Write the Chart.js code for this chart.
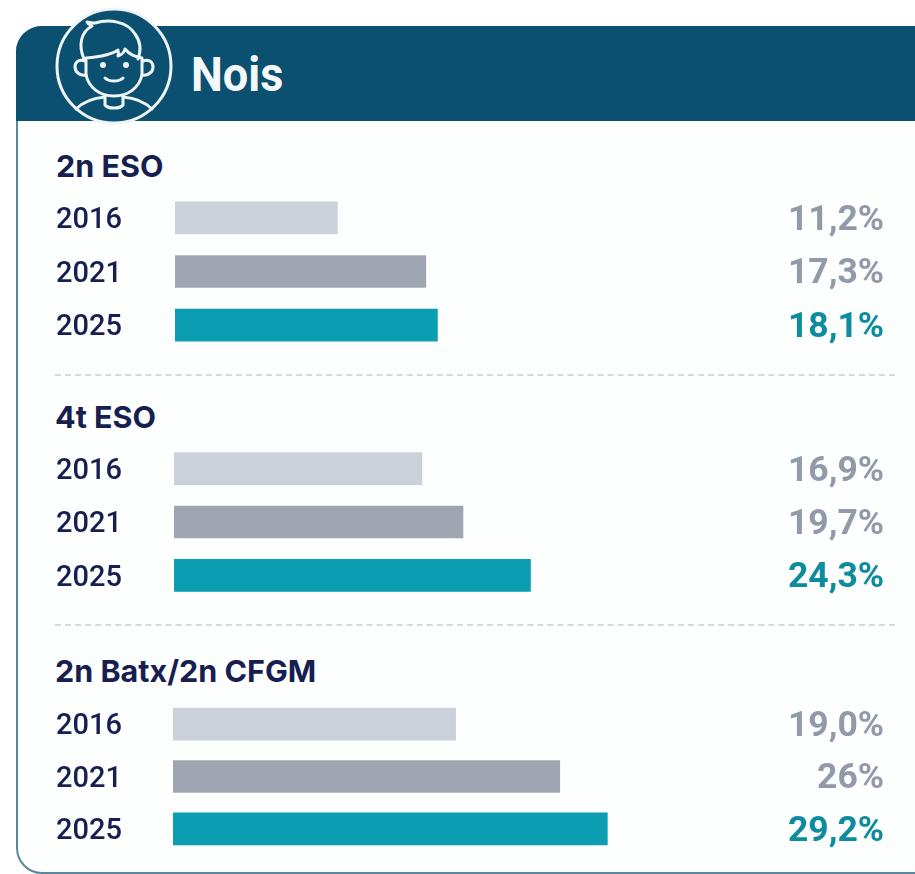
<!DOCTYPE html>
<html lang="ca"><head><meta charset="utf-8">
<script src="https://cdn.jsdelivr.net/npm/chart.js@4"></script>
<style>
html,body{margin:0;padding:0;background:#fff;width:915px;height:874px;overflow:hidden;font-family:Roboto,sans-serif}
#card{position:absolute;left:16px;top:26px;width:920px;height:844px;border:2px solid #5b879c;border-radius:26px;background:#fdfefe}
#head{position:absolute;left:16px;top:26px;width:915px;height:95px;background:#0b4f71;border-radius:26px 0 0 0}
#name{position:absolute;left:191px;top:45px;font:700 49px/60px Roboto,sans-serif;color:#f4f8fa;transform:scaleX(.92);transform-origin:left}
svg{position:absolute;left:49px;top:1px}
.t{position:absolute;font:700 30.5px/34px Inter,sans-serif;color:#171f50;white-space:nowrap}
.d{position:absolute;height:0;border-top:2px dashed #d5d8dc}
canvas{position:absolute;left:0}
</style></head><body>
<div id="card"></div><div id="head"></div>
<svg width="130" height="130" viewBox="0 0 130 130" fill="none" stroke="#eef5f7" stroke-width="3" stroke-linecap="round" stroke-linejoin="round">
<circle cx="65" cy="65" r="57" fill="#0b4f71"/>
<path d="M36 60c-5-2-10 0-10 6s6 9 11 8M94 60c5-2 10 0 10 6s-6 9-11 8"/>
<path d="M37 74c3 13 14 21 28 21s25-8 28-21V57c-7-1-13-4-17-9-1 4-4 6-7 7 1-3 0-5 0-6-7 5-20 7-32 8z"/>
<path d="M35 58c-6-14-3-27 8-33-2-1-4-2-5-4 3 1 6 1 8 1 14-4 32-2 40 11 6 8 6 17 3 25"/>
<path d="M56 96v8c3 4 15 4 18 0v-8"/>
<path d="M27 108c7-7 18-11 29-12M103 108c-7-7-18-11-29-12"/>
<path d="M56 77c4 4 14 4 18 0"/>
<circle cx="54" cy="64" r="3" fill="#eef5f7" stroke="none"/><circle cx="77" cy="64" r="3" fill="#eef5f7" stroke="none"/>
</svg>
<div id="name">Nois</div>

<div class="t" style="left:56px;top:149px">2n ESO</div>
<div class="d" style="left:55px;top:374px;width:840px"></div>
<div class="t" style="left:55px;top:400px">4t ESO</div>
<div class="d" style="left:55px;top:624px;width:840px"></div>
<div class="t" style="left:55px;top:654px">2n Batx/2n CFGM</div>

<canvas id="c1"></canvas><canvas id="c2"></canvas><canvas id="c3"></canvas>

<script>
const years = ['2016', '2021', '2025'];
const eso2 = [11.2, 17.3, 18.1];
const eso4 = [16.9, 19.7, 24.3];
const batx = [19.0, 26, 29.2];
const shownEso2 = ['11,2%', '17,3%', '18,1%'];
const shownEso4 = ['16,9%', '19,7%', '24,3%'];
const shownBatx = ['19,0%', '26%', '29,2%'];
const barColors = ['#ccd0d8', '#a0a6b1', '#0b9db2'];
const valueColors = ['#9299a9', '#9299a9', '#0d8c9f'];

const valueLabels = {
  id: 'valueLabels',
  afterDatasetsDraw(chart, args, opts) {
    const {ctx, chartArea} = chart;
    const meta = chart.getDatasetMeta(0);
    ctx.save();
    ctx.font = '700 35.5px Roboto, sans-serif';
    ctx.textAlign = 'right';
    ctx.textBaseline = 'middle';
    meta.data.forEach((bar, i) => {
      ctx.fillStyle = valueColors[i];
      ctx.fillText(opts.shown[i], chartArea.right, bar.y + 3);
    });
    ctx.restore();
  }
};

function makeChart(id, top, height, left, values, shown, xMax) {
  const cv = document.getElementById(id);
  cv.style.top = top + 'px';
  cv.style.width = '915px';
  cv.style.height = height + 'px';
  cv.width = 915; cv.height = height;
  new Chart(cv, {
    type: 'bar',
    data: {labels: years, datasets: [{data: values, backgroundColor: barColors, barThickness: 32, borderWidth: 0}]},
    options: {
      indexAxis: 'y', responsive: false, animation: false,
      layout: {padding: {left: 56, right: 31, top: 0, bottom: 0}},
      plugins: {legend: {display: false}, tooltip: {enabled: false}, valueLabels: {shown}},
      scales: {
        x: {display: false, min: 0, max: xMax},
        y: {
          grid: {display: false}, border: {display: false},
          afterFit(s) { s.width = left - 56; s.paddingTop = 0; s.paddingBottom = 0; },
          ticks: {crossAlign: 'far', padding: 0, labelOffset: 3, color: '#171f50', font: {family: 'Roboto, sans-serif', size: 29, weight: '500'}}
        }
      }
    },
    plugins: [valueLabels]
  });
}
makeChart('c1', 191, 161, 175, eso2, shownEso2, 48.9);
makeChart('c2', 442, 160, 174, eso4, shownEso4, 48.4);
makeChart('c3', 698, 157, 173, batx, shownBatx, 47.8);
</script>
</body></html>
